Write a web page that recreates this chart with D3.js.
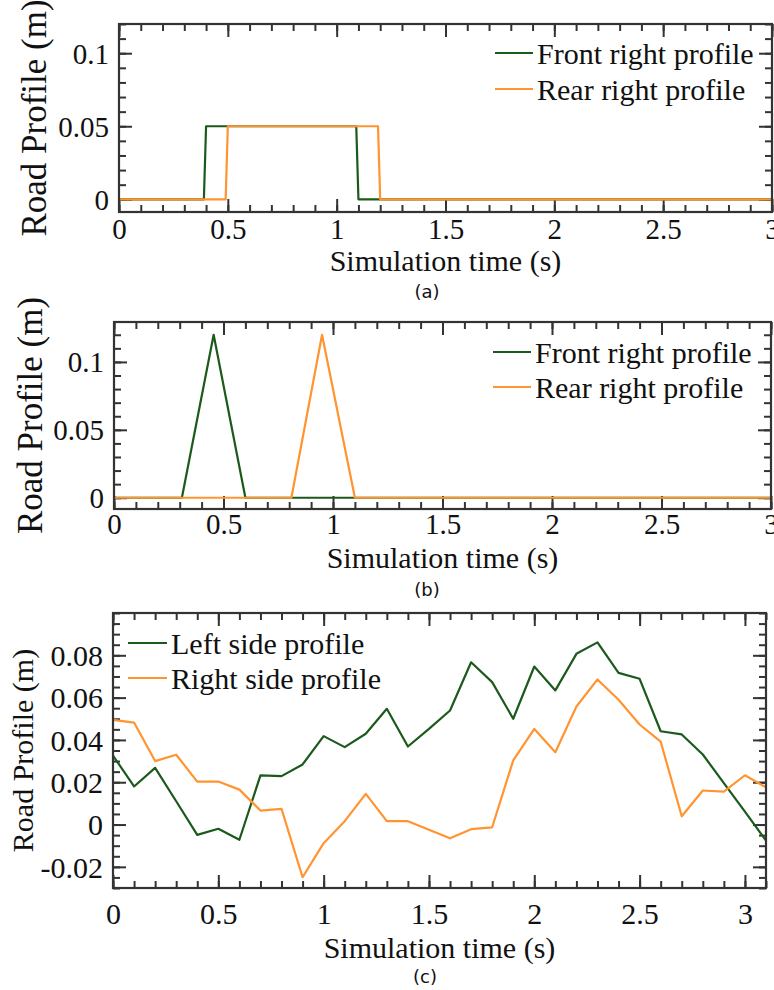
<!DOCTYPE html>
<html>
<head>
<meta charset="utf-8">
<script src="https://cdn.jsdelivr.net/npm/d3@7"></script>
<style>
  body { margin: 0; background: #fff; }
  svg text { font-family: "Liberation Serif", "Times New Roman", serif; fill: #111; }
</style>
</head>
<body>
<div id="fig"></div>
<script>
// ---- data ----
var xTicks = [0, 0.5, 1, 1.5, 2, 2.5, 3];

// (a) step bumps
var frontA = [[0, 0], [0.39, 0], [0.40, 0.05], [1.09, 0.05], [1.10, 0], [3, 0]];
var rearA  = [[0, 0], [0.49, 0], [0.50, 0.05], [1.19, 0.05], [1.20, 0], [3, 0]];
var yTicksA = [0, 0.05, 0.1];

// (b) triangle bumps
var frontB = [[0, 0], [0.31, 0], [0.455, 0.12], [0.60, 0], [3, 0]];
var rearB  = [[0, 0], [0.81, 0], [0.95, 0.12], [1.10, 0], [3, 0]];
var yTicksB = [0, 0.05, 0.1];

// (c) random road
var timeC = [0, 0.1, 0.2, 0.3, 0.4, 0.5, 0.6, 0.7, 0.8, 0.9, 1.0, 1.1, 1.2, 1.3, 1.4, 1.5,
             1.6, 1.7, 1.8, 1.9, 2.0, 2.1, 2.2, 2.3, 2.4, 2.5, 2.6, 2.7, 2.8, 2.9, 3.0, 3.1];
var leftC  = [0.0326, 0.018, 0.0268, 0.011, -0.0049, -0.002, -0.0072, 0.0232, 0.0229, 0.0284,
              0.0418, 0.0366, 0.0429, 0.0547, 0.0369, 0.0452, 0.0539, 0.0767, 0.0673, 0.05,
              0.0747, 0.0634, 0.0807, 0.0861, 0.0717, 0.0689, 0.0441, 0.0426, 0.0331, 0.0196,
              0.0061, -0.0076];
var rightC = [0.0495, 0.0482, 0.03, 0.033, 0.0203, 0.0203, 0.0165, 0.0066, 0.0074, -0.0249,
              -0.0088, 0.0016, 0.0145, 0.0016, 0.0016, -0.0025, -0.0065, -0.0022, -0.0013, 0.0303,
              0.0452, 0.0342, 0.0558, 0.0686, 0.059, 0.0473, 0.0392, 0.0039, 0.0161, 0.0156,
              0.0233, 0.0176];
var yTicksC = [-0.02, 0, 0.02, 0.04, 0.06, 0.08];

var green = "#1c5a1c",
    orange = "#ff9430",
    frameCol = "#333";

var svg = d3.select("#fig").append("svg")
    .attr("width", 774)
    .attr("height", 990);

function fmt(d) { return String(+d.toFixed(3)); }

function minorRange(lo, hi, step) {
  var out = [];
  var n = Math.round((hi - lo) / step);
  for (var i = 0; i <= n; i++) out.push(+(lo + i * step).toFixed(4));
  return out;
}

function panel(p) {
  var w = p.right - p.left, h = p.bottom - p.top;
  var g = svg.append("g").attr("transform", "translate(" + p.left + "," + p.top + ")");

  var x = d3.scaleLinear().domain(p.xDomain).range([0, w]);
  var y = d3.scaleLinear().domain(p.yDomain).range([h, 0]);

  var xMinor = minorRange(0, p.xDomain[1], 0.1).filter(function(v) { return v <= p.xDomain[1]; });
  var yMinor = minorRange(p.yMinorStart, p.yDomain[1], p.yMinorStep)
      .filter(function(v) { return v >= p.yDomain[0] && v <= p.yDomain[1]; });

  // ticks, all pointing inward, on four sides
  function addAxis(axisFn, scale, vals, size, tr, labels) {
    var ax = g.append("g").attr("transform", tr)
      .call(axisFn(scale).tickValues(vals).tickSize(-size).tickFormat(labels ? fmt : ""));
    ax.select(".domain").remove();
    ax.selectAll("line").attr("stroke", frameCol).attr("stroke-width", 2);
    return ax;
  }

  var bx = addAxis(d3.axisBottom, x, xTicks.filter(function(v) { return v <= p.xDomain[1]; }), 13, "translate(0," + h + ")", true);
  bx.selectAll("text")
    .attr("y", p.xLabelY - p.bottom).attr("dy", null)
    .style("font-size", p.tickFont + "px")
    .style("font-family", "Liberation Serif, serif")
    .attr("fill", "#111");
  addAxis(d3.axisBottom, x, xMinor, 7, "translate(0," + h + ")", false);
  addAxis(d3.axisTop, x, xTicks, 13, "translate(0,0)", false);
  addAxis(d3.axisTop, x, xMinor, 7, "translate(0,0)", false);

  var ly = addAxis(d3.axisLeft, y, p.yTicks, 13, "translate(0,0)", true);
  ly.selectAll("text")
    .attr("x", -10).attr("dy", "0.34em")
    .style("font-size", p.tickFont + "px")
    .style("font-family", "Liberation Serif, serif")
    .attr("fill", "#111");
  addAxis(d3.axisLeft, y, yMinor, 7, "translate(0,0)", false);
  addAxis(d3.axisRight, y, p.yTicks, 13, "translate(" + w + ",0)", false);
  addAxis(d3.axisRight, y, yMinor, 7, "translate(" + w + ",0)", false);

  // series
  var line = d3.line().x(function(d) { return x(d[0]); }).y(function(d) { return y(d[1]); });
  p.series.forEach(function(s) {
    g.append("path")
      .datum(s.data)
      .attr("fill", "none")
      .attr("stroke", s.color)
      .attr("stroke-width", 2.2)
      .attr("stroke-linejoin", "round")
      .attr("d", line);
  });

  // frame
  g.append("rect")
    .attr("width", w).attr("height", h)
    .attr("fill", "none").attr("stroke", frameCol).attr("stroke-width", 2.2);

  // legend
  p.series.forEach(function(s, i) {
    var ry = p.legend.y0 + i * p.legend.dy;
    svg.append("line")
      .attr("x1", p.legend.x1).attr("x2", p.legend.x2)
      .attr("y1", ry).attr("y2", ry)
      .attr("stroke", s.color).attr("stroke-width", 2);
    svg.append("text")
      .attr("x", p.legend.x2 + 4).attr("y", ry + 11)
      .style("font-size", "30px")
      .text(s.name);
  });

  // axis titles
  svg.append("text")
    .attr("x", (p.left + p.right) / 2).attr("y", p.xTitleY)
    .attr("text-anchor", "middle")
    .style("font-size", "30px")
    .text("Simulation time (s)");

  svg.append("text")
    .attr("transform", "translate(" + p.yTitleX + "," + (p.top + p.bottom) / 2 + ") rotate(-90)")
    .attr("text-anchor", "middle")
    .style("font-size", p.yTitleFont + "px")
    .text("Road Profile (m)");

  // caption
  svg.append("text")
    .attr("x", p.capX).attr("y", p.capY)
    .attr("text-anchor", "middle")
    .style("font-family", "DejaVu Sans, sans-serif")
    .style("font-size", "18px")
    .attr("fill", "#222")
    .text(p.caption);
}

function pairs(xs, ys) { return xs.map(function(t, i) { return [t, ys[i]]; }); }

panel({
  left: 119, right: 772, top: 24, bottom: 212,
  xDomain: [0, 3], yDomain: [-0.0087, 0.12],
  yTicks: yTicksA, yMinorStart: 0, yMinorStep: 0.01,
  tickFont: 29, xLabelY: 239, xTitleY: 271, yTitleX: 46, yTitleFont: 35,
  capX: 427, capY: 298, caption: "(a)",
  legend: { x1: 495, x2: 533, y0: 53, dy: 36 },
  series: [
    { name: "Front right profile", color: green, data: frontA },
    { name: "Rear right profile", color: orange, data: rearA }
  ]
});

panel({
  left: 114, right: 771, top: 322, bottom: 509,
  xDomain: [0, 3], yDomain: [-0.0083, 0.1294],
  yTicks: yTicksB, yMinorStart: 0, yMinorStep: 0.01,
  tickFont: 29, xLabelY: 534, xTitleY: 568, yTitleX: 42, yTitleFont: 35,
  capX: 427, capY: 596, caption: "(b)",
  legend: { x1: 493, x2: 531, y0: 352, dy: 35 },
  series: [
    { name: "Front right profile", color: green, data: frontB },
    { name: "Rear right profile", color: orange, data: rearB }
  ]
});

panel({
  left: 113, right: 766, top: 613, bottom: 888,
  xDomain: [0, 3.1], yDomain: [-0.03, 0.1],
  yTicks: yTicksC, yMinorStart: -0.03, yMinorStep: 0.005,
  tickFont: 30, xLabelY: 924, xTitleY: 958, yTitleX: 33, yTitleFont: 30,
  capX: 425, capY: 983, caption: "(c)",
  legend: { x1: 128, x2: 167, y0: 643, dy: 35 },
  series: [
    { name: "Left side profile", color: green, data: pairs(timeC, leftC) },
    { name: "Right side profile", color: orange, data: pairs(timeC, rightC) }
  ]
});
</script>
</body>
</html>
